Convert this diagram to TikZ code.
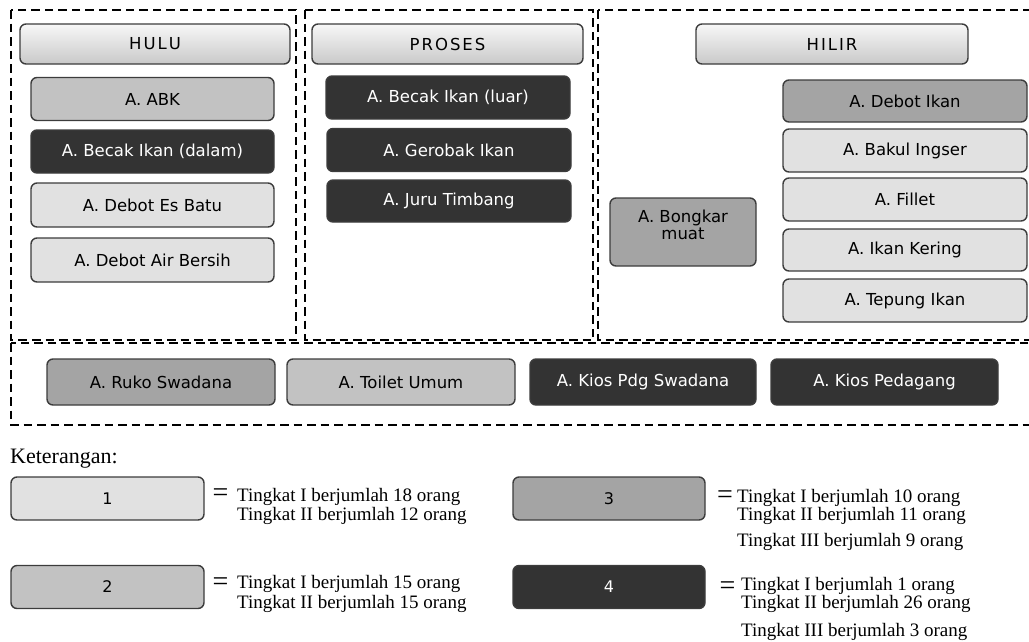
\documentclass[tikz,border=0pt]{standalone}
\usepackage{fontspec}
\setmainfont{Liberation Serif}
\newfontfamily\boxfont{DejaVu Sans}
\definecolor{cA}{HTML}{E1E1E1}
\definecolor{cB}{HTML}{C2C2C2}
\definecolor{cC}{HTML}{A4A4A4}
\definecolor{cD}{HTML}{333333}
\definecolor{bord}{HTML}{3C3C3C}
\definecolor{htop}{HTML}{F7F7F7}
\definecolor{hbot}{HTML}{C9C9C9}
\begin{document}
\begin{tikzpicture}[x=1pt,y=-1pt,
  base/.style={draw=bord, line width=1.4pt, rounded corners=6pt, inner sep=0pt,
    font=\boxfont\fontsize{16.5}{17}\selectfont, align=center},
  lvA/.style={base, fill=cA, text=black},
  lvB/.style={base, fill=cB, text=black},
  lvC/.style={base, fill=cC, text=black},
  lvD/.style={base, fill=cD, text=white},
  hdr/.style={base, top color=htop, bottom color=hbot, text=black,
    minimum height=40pt},
  wide/.style={minimum width=244pt, minimum height=43pt},
  dashbox/.style={draw=black, line width=2.4pt, dash pattern=on 8.5pt off 5pt},
  leg/.style={inner sep=0pt, anchor=base west, font=\fontsize{19}{20}\selectfont},
  eq/.style={inner sep=0pt, font=\fontsize{28}{28}\selectfont},
  legbox/.style={minimum width=193pt, minimum height=43pt,
    font=\boxfont\fontsize{16}{17}\selectfont}
]
\useasboundingbox (0,0) rectangle (1029,641);
\clip (0,0) rectangle (1029,641);

% dashed regions
\draw[dashbox] (11,10) rectangle (296,340);
\draw[dashbox] (305,10) rectangle (593,340);
\draw[dashbox] (598,10) rectangle (1045,340);
\draw[dashbox] (11,343) rectangle (1045,425);

% headers
\node[hdr, minimum width=270pt] (hulu) at (155,44) {H\kern2pt U\kern2pt L\kern2pt U};
\node[hdr, minimum width=271pt] (proses) at (447.5,44) {P\kern2pt R\kern2pt O\kern2pt S\kern2pt E\kern2pt S};
\node[hdr, minimum width=272pt] (hilir) at (832,44) {H\kern2pt I\kern2pt L\kern2pt I\kern2pt R};

% HULU
\node[lvB, wide, minimum width=243pt] (abk) at (152.5,99) {A. ABK};
\node[lvD, wide, minimum width=243pt] (becakd) at (152.5,151.5) {A. Becak Ikan (dalam)};
\node[lvA, wide, minimum width=243pt, minimum height=44pt] (esbatu) at (152.5,205) {A. Debot Es Batu};
\node[lvA, wide, minimum width=243pt, minimum height=44pt] (air) at (152.5,260) {A. Debot Air Bersih};

% PROSES
\node[lvD, wide] (becakl) at (448,97.5) {A. Becak Ikan (luar)};
\node[lvD, wide] (gerobak) at (449,150) {A. Gerobak Ikan};
\node[lvD, wide, minimum height=42pt] (juru) at (449,201) {A. Juru Timbang};

% HILIR
\node[lvC, wide, minimum height=42pt] (debotikan) at (905,101) {A. Debot Ikan};
\node[lvA, wide] (bakul) at (905,150.5) {A. Bakul Ingser};
\node[lvA, wide] (fillet) at (905,199.5) {A. Fillet};
\node[lvA, wide, minimum height=42pt] (kering) at (905,250) {A. Ikan Kering};
\node[lvA, wide] (tepung) at (905,300.5) {A. Tepung Ikan};
\node[lvC, minimum width=146pt, minimum height=68pt, text depth=15pt] (bongkar) at (683,232) {A. Bongkar\\muat};

% bottom row
\node[lvC, minimum width=228pt, minimum height=46pt] (ruko) at (161,382) {A. Ruko Swadana};
\node[lvB, minimum width=228pt, minimum height=46pt] (toilet) at (401,382) {A. Toilet Umum};
\node[lvD, minimum width=226pt, minimum height=46pt] (kiospdg) at (643,382) {A. Kios Pdg Swadana};
\node[lvD, minimum width=227pt, minimum height=46pt] (kiosped) at (884.5,382) {A. Kios Pedagang};

% legend
\node[inner sep=0pt, anchor=base west, font=\fontsize{22}{22}\selectfont] (ket) at (10,463) {Keterangan:};

\node[lvA, legbox] (k1) at (107.5,498.5) {1};
\node[lvB, legbox] (k2) at (107.5,587) {2};
\node[lvC, legbox, minimum width=192pt] (k3) at (609,498.5) {3};
\node[lvD, legbox, minimum width=192pt] (k4) at (609,587) {4};

\node[eq] (e1) at (220.5,495) {=};
\node[eq] (e2) at (220.5,584) {=};
\node[eq] (e3) at (725,497) {=};
\node[eq] (e4) at (727.5,588) {=};

\node[leg] (t1a) at (237,501) {Tingkat I berjumlah 18 orang};
\node[leg] (t1b) at (237,520) {Tingkat II berjumlah 12 orang};
\node[leg] (t2a) at (237,588) {Tingkat I berjumlah 15 orang};
\node[leg] (t2b) at (237,608) {Tingkat II berjumlah 15 orang};
\node[leg] (t3a) at (737,502) {Tingkat I berjumlah 10 orang};
\node[leg] (t3b) at (737,520) {Tingkat II berjumlah 11 orang};
\node[leg] (t3c) at (737,546) {Tingkat III berjumlah 9 orang};
\node[leg] (t4a) at (741,590) {Tingkat I berjumlah 1 orang};
\node[leg] (t4b) at (741,608) {Tingkat II berjumlah 26 orang};
\node[leg] (t4c) at (741,636) {Tingkat III berjumlah 3 orang};
\end{tikzpicture}
\end{document}
